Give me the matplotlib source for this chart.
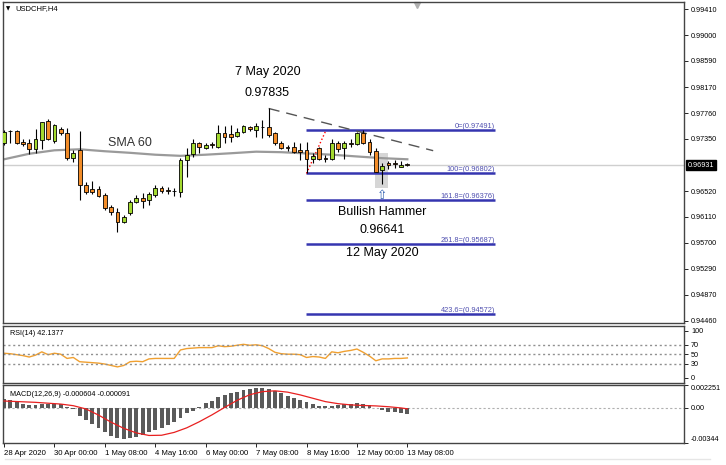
import numpy as np
import matplotlib.pyplot as plt
from matplotlib.patches import Rectangle
from matplotlib.lines import Line2D
import matplotlib.transforms as mtransforms

plt.rcParams['font.family'] = ['Liberation Sans', 'DejaVu Sans']

# USDCHF H4 candles, 28 Apr 16:00 .. 13 May 08:00
opens = [0.97291, 0.97477, 0.97482, 0.97307, 0.97282, 0.97186, 0.97334, 0.97641, 0.97323, 0.97504,
         0.97450, 0.97043, 0.97175, 0.96618, 0.96555, 0.96550, 0.96459, 0.96273, 0.96194, 0.96035,
         0.96169, 0.96353, 0.96416, 0.96380, 0.96459, 0.96566, 0.96539, 0.96523, 0.96512, 0.97016,
         0.97107, 0.97291, 0.97211, 0.97266, 0.97227, 0.97441, 0.97429, 0.97398, 0.97466, 0.97545,
         0.97493, 0.97545, 0.97545, 0.97441, 0.97291, 0.97218, 0.97218, 0.97175, 0.97175, 0.97032,
         0.97202, 0.97043, 0.97032, 0.97282, 0.97202, 0.97282, 0.97266, 0.97441, 0.97307, 0.97164,
         0.96857, 0.96964, 0.96964, 0.96910, 0.96948]
highs = [0.97493, 0.97485, 0.97493, 0.97345, 0.97345, 0.97504, 0.97625, 0.97663, 0.97588, 0.97541,
         0.97520, 0.97175, 0.97482, 0.96671, 0.96682, 0.96602, 0.96496, 0.96300, 0.96248, 0.96142,
         0.96380, 0.96459, 0.96491, 0.96512, 0.96618, 0.96602, 0.96582, 0.96566, 0.97043, 0.97202,
         0.97345, 0.97307, 0.97282, 0.97307, 0.97573, 0.97557, 0.97573, 0.97520, 0.97573, 0.97557,
         0.97609, 0.97652, 0.97835, 0.97466, 0.97323, 0.97255, 0.97297, 0.97282, 0.97297, 0.97123,
         0.97227, 0.97096, 0.97345, 0.97323, 0.97323, 0.97345, 0.97466, 0.97493, 0.97345, 0.97202,
         0.96964, 0.97005, 0.97016, 0.97005, 0.96964]
lows = [0.97255, 0.97293, 0.97270, 0.97239, 0.97111, 0.97123, 0.97191, 0.97334, 0.97286, 0.97414,
        0.97016, 0.96989, 0.96380, 0.96475, 0.96475, 0.96423, 0.96221, 0.96142, 0.95876, 0.96019,
        0.96142, 0.96327, 0.96253, 0.96300, 0.96423, 0.96491, 0.96475, 0.96444, 0.96432, 0.96750,
        0.97068, 0.97123, 0.97186, 0.97202, 0.97202, 0.97291, 0.97307, 0.97377, 0.97441, 0.97482,
        0.97382, 0.97361, 0.97382, 0.97255, 0.97186, 0.97164, 0.97132, 0.97016, 0.96802, 0.96964,
        0.97016, 0.96989, 0.97016, 0.97148, 0.97027, 0.97218, 0.97255, 0.97266, 0.97096, 0.96820,
        0.96641, 0.96868, 0.96884, 0.96900, 0.96925]
closes = [0.97466, 0.97469, 0.97291, 0.97266, 0.97186, 0.97345, 0.97615, 0.97345, 0.97573, 0.97441,
          0.97053, 0.97132, 0.96618, 0.96512, 0.96512, 0.96444, 0.96248, 0.96194, 0.96025, 0.96115,
          0.96353, 0.96416, 0.96364, 0.96471, 0.96566, 0.96528, 0.96528, 0.96515, 0.97016, 0.97096,
          0.97291, 0.97227, 0.97255, 0.97255, 0.97441, 0.97386, 0.97386, 0.97466, 0.97557, 0.97504,
          0.97557, 0.97541, 0.97414, 0.97282, 0.97202, 0.97199, 0.97148, 0.97148, 0.97027, 0.97084,
          0.97032, 0.97027, 0.97282, 0.97191, 0.97282, 0.97266, 0.97441, 0.97291, 0.97148, 0.96830,
          0.96921, 0.96937, 0.96952, 0.96937, 0.96931]

# SMA 60 read at a few bars
sma_idx = [0, 4, 8, 12, 16, 20, 24, 28, 32, 36, 40, 44, 48, 52, 56, 60, 64]
sma_val = [0.97027, 0.97115, 0.97170, 0.97186, 0.97155, 0.97130, 0.97100, 0.97082, 0.97100,
           0.97123, 0.97148, 0.97140, 0.97120, 0.97100, 0.97072, 0.97045, 0.97027]

rsi = [52, 51, 49, 47, 44, 48, 55, 49, 52, 50, 41, 43, 34, 33, 32, 31, 29, 26, 23, 26,
       34, 35, 34, 40, 41, 41, 41, 41, 59, 62, 63, 64, 64, 64, 68, 66, 67, 69, 71, 69,
       70, 68, 62, 54, 51, 50, 50, 49, 43, 45, 44, 41, 55, 53, 56, 58, 61, 54, 46, 36,
       40, 40, 41, 41, 42]

macd = [0.00087, 0.00077, 0.00055, 0.00035, 0.00028, 0.00028, 0.00038, 0.00042, 0.00042, 0.00040,
        0.00009, -0.00011, -0.00076, -0.00119, -0.00161, -0.00200, -0.00240, -0.00276, -0.00298, -0.00308,
        -0.00298, -0.00282, -0.00266, -0.00240, -0.00217, -0.00194, -0.00168, -0.00135, -0.00096, -0.00053,
        -0.00030, 0.00012, 0.00048, 0.00070, 0.00106, 0.00127, 0.00143, 0.00160, 0.00178, 0.00188,
        0.00194, 0.00192, 0.00183, 0.00163, 0.00143, 0.00120, 0.00094, 0.00078, 0.00058, 0.00043,
        0.00020, 0.00019, 0.00021, 0.00028, 0.00035, 0.00042, 0.00045, 0.00042, 0.00028, -0.00004,
        -0.00021, -0.00037, -0.00044, -0.00053, -0.00060]
sig_idx = [0, 5, 9, 11, 13, 15, 17, 19, 21, 23, 25, 27, 29, 31, 33, 35, 37, 39, 41, 43,
           45, 47, 49, 51, 53, 55, 57, 59, 61, 63, 64]
sig_val = [0.00068, 0.00055, 0.00038, 0.00022, -0.00010, -0.00070, -0.00140, -0.00200, -0.00245, -0.00270,
           -0.00268, -0.00240, -0.00195, -0.00135, -0.00068, 0.00005, 0.00075, 0.00130, 0.00160, 0.00168,
           0.00155, 0.00128, 0.00095, 0.00062, 0.00042, 0.00030, 0.00024, 0.00020, 0.00012, 0.00000, -0.00009]

fib_levels = [0.97491, 0.96802, 0.96376, 0.95687, 0.94572]
fib_names = ['0', '100', '161.8', '261.8', '423.6']

price_ticks = [0.99410, 0.99000, 0.98590, 0.98170, 0.97760, 0.97350,
               0.96520, 0.96110, 0.95700, 0.95290, 0.94870, 0.94460]
last_price = 0.96931
x_labels = ['28 Apr 2020', '30 Apr 00:00', '1 May 08:00', '4 May 16:00', '6 May 00:00',
            '7 May 08:00', '8 May 16:00', '12 May 00:00', '13 May 08:00']

W, H = 726, 465
fig = plt.figure(figsize=(W / 100, H / 100), dpi=100)
ax = fig.add_axes([3 / W, 1 - 323 / H, 681 / W, 321 / H])
ax_rsi = fig.add_axes([3 / W, 1 - 383 / H, 681 / W, 57 / H], sharex=ax)
ax_macd = fig.add_axes([3 / W, 1 - 443 / H, 681 / W, 58 / H], sharex=ax)

n = len(opens)
xs = np.arange(n)
bull_c = '#a3d930'
bear_c = '#f28c28'

# candles
for i in range(n):
    o, h, l, c = opens[i], highs[i], lows[i], closes[i]
    ax.vlines(i, l, h, color='black', lw=0.8, zorder=3)
    col = bull_c if c >= o else bear_c
    ax.add_patch(Rectangle((i - 0.3, min(o, c)), 0.6, abs(c - o), facecolor=col,
                           edgecolor='black', lw=0.6, zorder=4))

ax.plot(sma_idx, sma_val, color='#9a9a9a', lw=1.6, zorder=2)
ax.axhline(last_price, color='#cfcfcf', lw=1, zorder=1)

# fibo
fib_c = '#3535b0'
ax.hlines(fib_levels, 47.9, 77.9, color=fib_c, lw=1.8, zorder=2)
for name, lv in zip(fib_names, fib_levels):
    ax.text(77.9, lv, f'{name}=({lv:.5f})', ha='right', va='bottom', fontsize=5.3,
            color='#5050b0')
ax.plot([48, 51.1], [0.96802, 0.97491], color='red', ls=':', lw=1, zorder=2)

# trend line from 7 May high
ax.plot([42, 68.1], [0.97835, 0.97164], color='#555555', lw=1, ls=(0, (8, 5)), zorder=2)

# hammer highlight
ax.add_patch(Rectangle((58.9, 0.96572), 2.05, 0.97128 - 0.96572, facecolor='#d6d6d6',
                       edgecolor='none', zorder=1))
ax.text(60, 0.96444, '⇧', ha='center', va='center', fontsize=9, color='#3060b0',
        family='DejaVu Sans')

fs = 9
ax.text(41.8, 0.98420, '7 May 2020', ha='center', va='center', fontsize=fs)
ax.text(41.8, 0.98086, '0.97835', ha='center', va='center', fontsize=fs)
ax.text(20, 0.97282, 'SMA 60', ha='center', va='center', fontsize=fs, color='#333333')
ax.text(60, 0.96189, 'Bullish Hammer', ha='center', va='center', fontsize=fs)
ax.text(60, 0.95905, '0.96641', ha='center', va='center', fontsize=fs)
ax.text(60, 0.95533, '12 May 2020', ha='center', va='center', fontsize=fs)

ax.text(0.005, 0.980, '▼', transform=ax.transAxes, fontsize=4, va='center', ha='left',
        family='DejaVu Sans')
ax.text(0.0186, 0.980, 'USDCHF,H4', transform=ax.transAxes, fontsize=5.5, va='center', ha='left')
ax.plot([0.608], [0.992], marker='v', color='#b0b0b0', ms=5, transform=ax.transAxes,
        clip_on=False)

ax.set_xlim(-0.16, 107.9)
ax.set_ylim(0.94424, 0.99528)
ax.yaxis.tick_right()
ax.set_yticks(price_ticks)
ax.set_yticklabels([f'{v:.5f}' for v in price_ticks])
trans = mtransforms.blended_transform_factory(ax.transAxes, ax.transData)
ax.text(1.005, last_price, f'{last_price:.5f}', transform=trans, fontsize=5.2, color='white',
        va='center', ha='left', bbox=dict(facecolor='black', edgecolor='black', pad=1.2))

# RSI
ax_rsi.plot(xs, rsi, color='#f0a030', lw=1)
for lv in (70, 50, 30):
    ax_rsi.axhline(lv, color='#909090', lw=1, ls=(0, (1.5, 2)))
ax_rsi.set_ylim(-11.3, 110)
ax_rsi.yaxis.tick_right()
ax_rsi.set_yticks([100, 70, 50, 30, 0])
ax_rsi.text(0.011, 0.86, 'RSI(14) 42.1377', transform=ax_rsi.transAxes, fontsize=5.2,
            va='center', ha='left')

# MACD
ax_macd.bar(xs, macd, width=0.62, color='#5a5a5a', zorder=2)
ax_macd.plot(sig_idx, sig_val, color='#e82020', lw=0.9, zorder=3)
ax_macd.axhline(0, color='#b0b0b0', lw=0.8, ls=(0, (2, 2)), zorder=1)
ax_macd.set_ylim(-0.00344, 0.002251)
ax_macd.yaxis.tick_right()
ax_macd.set_yticks([0.002251, 0, -0.00344])
ax_macd.set_yticklabels(['0.002251', '0.00', '-0.00344'])
labs = ax_macd.get_yticklabels()
labs[0].set_va('top')
labs[2].set_va('bottom')
ax_macd.text(0.011, 0.84, 'MACD(12,26,9) -0.000604 -0.000091', transform=ax_macd.transAxes,
             fontsize=5.2, va='center', ha='left')

ax_macd.set_xticks(np.arange(0, 65, 8))
ax_macd.set_xticklabels(x_labels, ha='left')

for a in (ax, ax_rsi, ax_macd):
    for s in a.spines.values():
        s.set_color('#444444')
        s.set_linewidth(1.0)
    a.tick_params(axis='y', labelsize=5.2, length=3, width=0.6, pad=2, direction='out')
    a.tick_params(axis='x', labelsize=5.6, length=3, width=0.6, pad=2, direction='out')
ax.tick_params(axis='x', bottom=False, labelbottom=False)
ax_rsi.tick_params(axis='x', bottom=False, labelbottom=False)

fig.add_artist(Line2D([5 / W, 710 / W], [1 - 459 / H, 1 - 459 / H], color='#e6e6e6', lw=1))

fig.savefig('out.png', dpi=100)
